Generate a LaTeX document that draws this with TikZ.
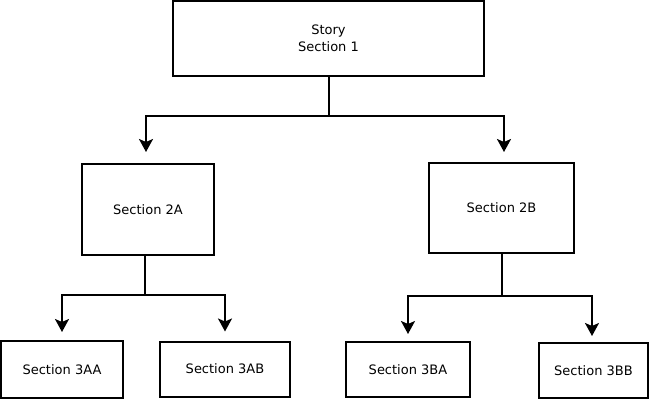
\documentclass[tikz,border=0pt]{standalone}
\usepackage{fontspec}
\setmainfont{DejaVu Sans}
\usetikzlibrary{arrows.meta}
\begin{document}
\begin{tikzpicture}[x=1pt,y=-1pt,
  box/.style={draw=black, line width=2pt, fill=white, inner sep=0pt, align=center,
    font=\fontsize{13}{17}\selectfont},
  conn/.style={line width=2pt, -{Stealth[length=13pt,width=14pt,inset=3pt]}}]
\useasboundingbox (0,0) rectangle (650,400);
\node[box, minimum width=311pt, minimum height=75pt] (top) at (328.5,38.5) {Story\\Section 1};
\node[box, minimum width=132pt, minimum height=91pt] (s2a) at (148,209.5) {Section 2A};
\node[box, minimum width=145pt, minimum height=90pt] (s2b) at (501.5,208) {Section 2B};
\node[box, minimum width=122pt, minimum height=57pt] (s3aa) at (62,369.5) {Section 3AA};
\node[box, minimum width=130pt, minimum height=55pt] (s3ab) at (225,369) {Section 3AB};
\node[box, minimum width=124pt, minimum height=55pt] (s3ba) at (408,369.5) {Section 3BA};
\node[box, minimum width=109pt, minimum height=55pt] (s3bb) at (593.5,370.5) {Section 3BB};
% level 1 -> 2
\draw[conn, shorten >=11pt] (top.south) -- ++(0,39) -| ([xshift=-2pt]s2a.north);
\draw[conn, shorten >=10pt] (top.south) -- ++(0,39) -| ([xshift=2.5pt]s2b.north);
% 2A -> 3
\draw[conn, shorten >=8pt] ([xshift=-3pt]s2a.south) -- ++(0,39) -| (s3aa.north);
\draw[conn, shorten >=9pt] ([xshift=-3pt]s2a.south) -- ++(0,39) -| (s3ab.north);
% 2B -> 3
\draw[conn, shorten >=7pt] (s2b.south) -- ++(0,42) -| (s3ba.north);
\draw[conn, shorten >=6pt] (s2b.south) -- ++(0,42) -| ([xshift=-1.5pt]s3bb.north);
\end{tikzpicture}
\end{document}
